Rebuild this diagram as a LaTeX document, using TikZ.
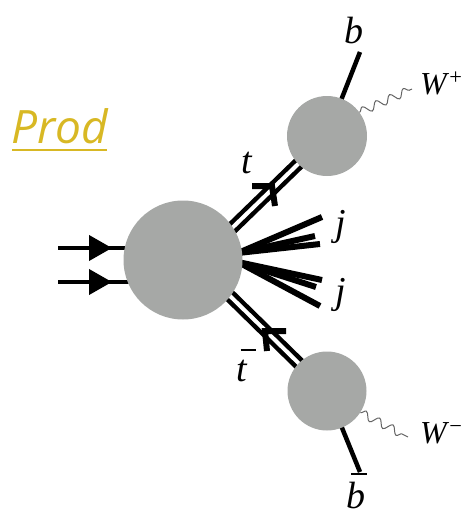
\documentclass[tikz,border=0pt]{standalone}
\usepackage{fontspec}
\setmainfont{Liberation Serif}
\newfontfamily\prodfont{Open Sans}
\usetikzlibrary{decorations.pathmorphing,decorations.markings,arrows.meta,backgrounds,calc}
\definecolor{blobgray}{RGB}{166,168,166}
\definecolor{prodgold}{RGB}{216,184,36}
\definecolor{wavegray}{RGB}{100,100,100}
\newcommand\barlet[3]{\makebox[0pt][l]{\kern#3\rule[#2]{0.42em}{0.05em}}\textit{#1}}
\begin{document}
\begin{tikzpicture}[x=1pt,y=-1pt,
  blob/.style={circle,fill=blobgray,inner sep=0pt,minimum size=#1},
  lab/.style={font=\fontsize{38}{38}\selectfont\itshape,inner sep=0pt,anchor=base},
  wlab/.style={font=\fontsize{32}{32}\selectfont,inner sep=0pt,anchor=base west},
  leg/.style={line width=4pt},
  jetline/.style={line width=6pt},
  dblout/.style={line width=13pt,draw=black},
  dblin/.style={line width=4pt,draw=white},
  chev/.style={line width=6pt,line join=miter},
  wave/.style={draw=wavegray,line width=1pt,decorate,
     decoration={snake,amplitude=4pt,segment length=15pt}},
  inarrow/.style={leg,postaction=decorate,
     decoration={markings,mark=at position 54pt with {\arrow{Triangle[length=23pt,width=25pt]}}}}
]
\useasboundingbox (0,0) rectangle (470,517);

% blobs
\node[blob=119pt] (P) at (183,260) {};
\node[blob=80pt] (T) at (327,136) {};
\node[blob=79pt] (Tb) at (327,391) {};

% named coordinates
\coordinate (in1) at (58,248);
\coordinate (in2) at (58,282);
\coordinate (tA) at (229,231);
\coordinate (tbA) at (228,294);
\coordinate (jo1) at (238,253);
\coordinate (jo2) at (238,262);
\coordinate (j1a) at (322,217);
\coordinate (j1b) at (315,236);
\coordinate (j1c) at (320,244);
\coordinate (j2a) at (322,280);
\coordinate (j2b) at (316,287);
\coordinate (j2c) at (320,306);
\coordinate (bt) at (360,52);
\coordinate (bb) at (360,472);
\coordinate (wp) at (412,89);
\coordinate (wm) at (408,437);
\coordinate (ta) at (272,186);
\coordinate (tba) at (265,331);

\begin{scope}[on background layer]
  \draw[inarrow] (in1) -- (in1 -| P.center);
  \draw[inarrow] (in2) -- (in2 -| P.center);
  \draw[dblout] (tA) -- (T.center);
  \draw[dblin] (tA) -- (T.center);
  \draw[dblout] (tbA) -- (Tb.center);
  \draw[dblin] (tbA) -- (Tb.center);
  \foreach \e in {j1a,j1b,j1c} \draw[jetline] (jo1) -- (\e);
  \foreach \e in {j2a,j2b,j2c} \draw[jetline] (jo2) -- (\e);
  \draw[line width=4.5pt] (T.center) -- (bt);
  \draw[line width=4.5pt] (Tb.center) -- (bb);
\end{scope}

% chevron arrows on the top lines
\draw[chev] ($(ta)+(-20,0)$) -- (ta) -- ++(3,20);
\draw[chev] ($(tba)+(21,0)$) -- (tba) -- ++(2,20);

% W bosons
\draw[wave] (T.36) -- (wp);
\draw[wave] (Tb.-33) -- (wm);

% labels
\node[lab] (lt) at (247,173) {t};
\node[lab] (ltb) at (242,381) {\barlet{t}{0.8em}{0.10em}};
\node[lab] (lb) at (354,43) {b};
\node[lab] (lbb) at (356,508) {\barlet{b}{0.86em}{0.13em}};
\node[lab] (lj1) at (341,235) {j};
\node[lab] (lj2) at (341,303) {j};
\node[wlab] (lwp) at (420,94) {\textit{W}\textsuperscript{+}};
\node[wlab] (lwm) at (420,443) {\textit{W}\textsuperscript{\char"2212}};

% Prod
\node[font=\prodfont\itshape\fontsize{46}{46}\selectfont,text=prodgold,anchor=base west,inner sep=0pt] (prod) at (11,143) {Prod};
\draw[prodgold,line width=2.5pt] ($(prod.base west)+(1,7)$) -- ($(prod.base east)+(-1,7)$);
\end{tikzpicture}
\end{document}
